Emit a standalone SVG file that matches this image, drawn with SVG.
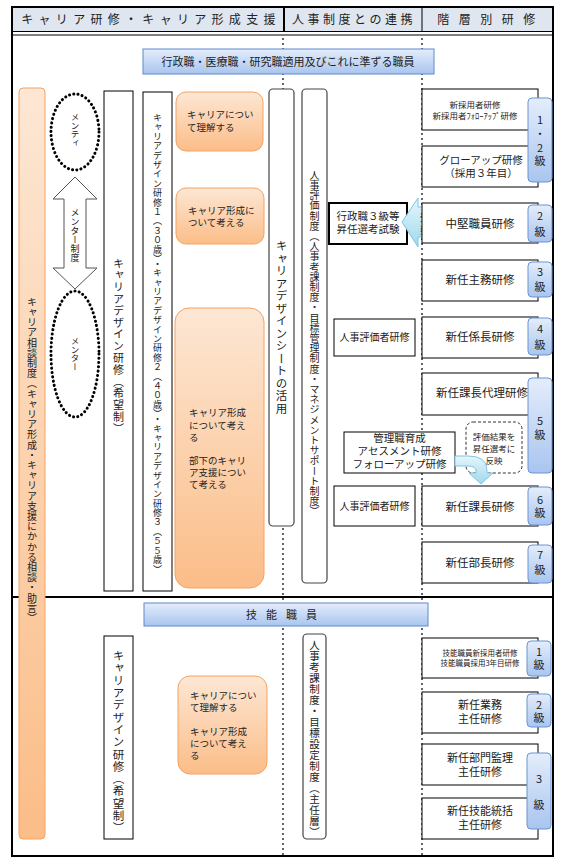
<svg xmlns="http://www.w3.org/2000/svg" width="563" height="865" viewBox="0 0 563 865">
<defs>
<linearGradient id="gOr" x1="0" y1="0" x2="0" y2="1"><stop offset="0" stop-color="#fde7d4"/><stop offset="1" stop-color="#fbbd88"/></linearGradient>
<linearGradient id="gBl" x1="0" y1="0" x2="0" y2="1"><stop offset="0" stop-color="#e4edfb"/><stop offset="1" stop-color="#a9c5ef"/></linearGradient>
<linearGradient id="gCy" x1="0" y1="0" x2="0" y2="1"><stop offset="0" stop-color="#e6f6fc"/><stop offset="1" stop-color="#9fd8ee"/></linearGradient>
<style>
text{font-family:"Noto Sans CJK JP","Noto Sans",sans-serif;fill:#222}
.v{writing-mode:vertical-rl}
.vu{writing-mode:vertical-rl;text-orientation:upright;font-size:11px}
.or{fill:url(#gOr);stroke:#f5a263;stroke-width:1}
.bl{fill:url(#gBl);stroke:#5d8ad0;stroke-width:1}
.pill{fill:url(#gBl);stroke:#6b93d3;stroke-width:1}
.bx{fill:#fff;stroke:#000;stroke-width:1}
.rr{fill:#fff;stroke:#444;stroke-width:1.2}
.dot{stroke:#000;stroke-width:1.2;stroke-dasharray:2 3;fill:none}
.ell{fill:#fff;stroke:#000;stroke-width:3;stroke-dasharray:0.1 4.2;stroke-linecap:round}
.c{text-anchor:middle}
.hd{font-size:12px}
.rb{font-size:11.5px;text-anchor:middle}
.ot{font-size:9.5px}
</style>
</defs>

<g id="frame">
<rect x="12" y="7" width="541" height="849" fill="#fff" stroke="#000" stroke-width="2"/>
<rect x="13" y="8" width="539" height="23" fill="#dfe6ef"/>
<line x1="12" y1="31.5" x2="553" y2="31.5" stroke="#000" stroke-width="1.2"/>
<line x1="12" y1="35" x2="553" y2="35" stroke="#000" stroke-width="1"/>
<line x1="284" y1="7" x2="284" y2="31" stroke="#000" stroke-width="2"/>
<line x1="422" y1="7" x2="422" y2="31" stroke="#000" stroke-width="1"/>
<text class="hd c" x="151" y="24" letter-spacing="5.3">キャリア研修・キャリア形成支援</text>
<text class="hd c" x="354" y="24" letter-spacing="3.5">人事制度との連携</text>
<text class="hd c" x="491" y="24" letter-spacing="9.5">階層別研修</text>
<line class="dot" x1="283" y1="38" x2="283" y2="856"/>
<line class="dot" x1="422" y1="38" x2="422" y2="856"/>
<line x1="12" y1="597" x2="553" y2="597" stroke="#000" stroke-width="2"/>
</g>

<g id="band-admin">
<rect class="bl" x="143" y="49" width="291" height="25"/>
<text x="288" y="66" class="c" font-size="11">行政職・医療職・研究職適用及びこれに準ずる職員</text>
</g>

<g id="consult">
<rect class="or" x="19" y="88" width="26" height="751" rx="4"/>
<text class="v" x="32" y="297" font-size="10" letter-spacing="0.2">キャリア相談制度（キャリア形成・キャリア支援にかかる相談・助言）</text>
</g>

<g id="mentee">
<ellipse class="ell" cx="75" cy="132" rx="24" ry="38"/>
<text class="v" x="75" y="113" font-size="8.5">メンティ</text>
</g>
<g id="mentor">
<ellipse class="ell" cx="75" cy="354" rx="24" ry="63"/>
<text class="v" x="75" y="337" font-size="8.5">メンター</text>
</g>

<g id="design-wish">
<rect class="bx" x="104" y="91" width="29" height="500"/>
<text class="v" x="118.5" y="258" font-size="11" letter-spacing="0.8">キャリアデザイン研修（希望制）</text>
</g>
<g id="design-age">
<rect class="bx" x="143" y="92" width="29" height="499"/>
<text class="v" x="157.5" y="113" font-size="9" letter-spacing="0.4">キャリアデザイン研修１（３０歳）・キャリアデザイン研修２（４０歳）・キャリアデザイン研修３（５５歳）</text>
</g>

<g id="or1">
<rect class="or" x="176" y="92" width="87" height="59" rx="10"/>
<text class="ot" x="187" y="118">キャリアについ<tspan x="187" dy="13">て理解する</tspan></text>
</g>
<g id="or2">
<rect class="or" x="176" y="188" width="88" height="56" rx="10"/>
<text class="ot" x="188" y="214">キャリア形成に<tspan x="188" dy="12">ついて考える</tspan></text>
</g>
<g id="or3">
<rect class="or" x="175" y="308" width="89" height="280" rx="14"/>
<text class="ot" x="189" y="416">キャリア形成<tspan x="189" dy="13">について考え</tspan><tspan x="189" dy="12">る</tspan><tspan x="189" dy="23">部下のキャリ</tspan><tspan x="189" dy="12">ア支援につい</tspan><tspan x="189" dy="12">て考える</tspan></text>
</g>

<g id="sheet">
<rect class="rr" x="269" y="89" width="25" height="437" rx="4"/>
<text class="v" x="281.5" y="240" font-size="11.5" letter-spacing="1">キャリアデザインシートの活用</text>
</g>
<g id="eval">
<rect class="rr" x="302" y="89" width="25" height="494" rx="4"/>
<text class="v" x="314.5" y="170" font-size="10" letter-spacing="0.2">人事評価制度（人事考課制度・目標管理制度・マネジメントサポート制度）</text>
</g>

<g id="exam">
<rect x="329" y="203" width="78" height="41" fill="#fff" stroke="#000" stroke-width="2"/>
<text x="368" y="220" class="c" font-size="10.5">行政職３級等<tspan x="368" dy="13">昇任選考試験</tspan></text>
</g>
<g id="evaluator1">
<rect class="bx" x="334" y="319" width="81" height="37"/>
<text x="374.5" y="341" class="c" font-size="10">人事評価者研修</text>
</g>
<g id="evaluator2">
<rect class="bx" x="334" y="486" width="81" height="40"/>
<text x="374.5" y="510" class="c" font-size="10">人事評価者研修</text>
</g>
<g id="assess">
<rect class="bx" x="344" y="432" width="111" height="41"/>
<text x="399.5" y="442" class="c" font-size="10.5">管理職育成<tspan x="399.5" dy="13">アセスメント研修</tspan><tspan x="399.5" dy="13">フォローアップ研修</tspan></text>
</g>
<g id="reflect">
<rect x="466" y="422" width="56" height="51" rx="7" fill="#fff" stroke="#333" stroke-width="1" stroke-dasharray="3 2"/>
<text x="494" y="440" class="c" font-size="8.5">評価結果を<tspan x="494" dy="12">昇任選考に</tspan><tspan x="494" dy="12">反映</tspan></text>
</g>

<g id="connectors">
<path d="M75,177 L97,199 L86,199 L86,268 L97,268 L75,289 L53,268 L64,268 L64,199 L53,199 Z" fill="#fff" stroke="#555" stroke-width="1"/>
<text class="v" x="75" y="208" font-size="9">メンター制度</text>
<path d="M402,222 L418,198 L418,207 L442,207 L442,237 L418,237 L418,247 Z" fill="url(#gCy)" stroke="#7ec6e2" stroke-width="1"/>
<text x="429" y="221" class="c" font-size="9">受験<tspan x="429" dy="13">要件</tspan></text>
<path d="M455,456 L468,456 Q487,456 487,470 L487,473 L493,473 L481,484 L469,473 L476,473 L476,471 Q476,466 468,466 L455,466 Z" fill="url(#gCy)" stroke="#7ec6e2" stroke-width="1"/>
</g>

<g id="r1">
<rect class="bx" x="422" y="89" width="116" height="41"/>
<text x="475" y="108" class="c" font-size="8.5">新採用者研修<tspan x="475" dy="11">新採用者ﾌｫﾛｰｱｯﾌﾟ研修</tspan></text>
</g>
<g id="r2">
<rect class="bx" x="422" y="146" width="116" height="41"/>
<text x="481" y="164" class="c" font-size="10.5">グローアップ研修<tspan x="481" dy="13">（採用３年目）</tspan></text>
</g>
<g id="r3"><rect class="bx" x="422" y="203" width="116" height="40"/><text x="480" y="228" class="rb">中堅職員研修</text></g>
<g id="r4"><rect class="bx" x="422" y="260" width="116" height="41"/><text x="480" y="284" class="rb">新任主務研修</text></g>
<g id="r5"><rect class="bx" x="422" y="317" width="116" height="41"/><text x="480" y="341" class="rb">新任係長研修</text></g>
<g id="r6"><rect class="bx" x="422" y="373" width="116" height="42"/><text x="482" y="397" class="rb">新任課長代理研修</text></g>
<g id="r7"><rect class="bx" x="422" y="486" width="116" height="40"/><text x="480" y="511" class="rb">新任課長研修</text></g>
<g id="r8"><rect class="bx" x="422" y="542" width="116" height="41"/><text x="480" y="567" class="rb">新任部長研修</text></g>

<g id="p12"><rect class="pill" x="528" y="98" width="24" height="84" rx="4"/><text class="vu" x="540" y="114.5" letter-spacing="2.7">1・2級</text></g>
<g id="p2"><rect class="pill" x="528" y="205" width="24" height="37" rx="4"/><text class="vu" x="540" y="210.5" letter-spacing="5">2級</text></g>
<g id="p3"><rect class="pill" x="528" y="262" width="24" height="35" rx="4"/><text class="vu" x="540" y="266.5" letter-spacing="4">3級</text></g>
<g id="p4"><rect class="pill" x="528" y="318" width="24" height="37" rx="4"/><text class="vu" x="540" y="323.5" letter-spacing="5">4級</text></g>
<g id="p5"><rect class="pill" x="528" y="378" width="24" height="95" rx="4"/><text class="vu" x="540" y="415.5" letter-spacing="3">5級</text></g>
<g id="p6"><rect class="pill" x="528" y="487" width="24" height="38" rx="4"/><text class="vu" x="540" y="494.5" letter-spacing="2">6級</text></g>
<g id="p7"><rect class="pill" x="528" y="545" width="24" height="38" rx="4"/><text class="vu" x="540" y="549.5" letter-spacing="4">7級</text></g>

<g id="band-skill">
<rect class="bl" x="144" y="603" width="284" height="23"/>
<text x="286" y="619" class="c" font-size="11" letter-spacing="9">技能職員</text>
</g>
<g id="design-wish2">
<rect class="bx" x="104" y="636" width="29" height="203"/>
<text class="v" x="118.5" y="650" font-size="11.5" letter-spacing="0.8">キャリアデザイン研修（希望制）</text>
</g>
<g id="or4">
<rect class="or" x="178" y="676" width="89" height="98" rx="12"/>
<text class="ot" x="190" y="699">キャリアについ<tspan x="190" dy="12">て理解する</tspan><tspan x="190" dy="24">キャリア形成</tspan><tspan x="190" dy="12">について考え</tspan><tspan x="190" dy="12">る</tspan></text>
</g>
<g id="eval2">
<rect class="rr" x="303" y="634" width="23" height="205" rx="4"/>
<text class="v" x="314.5" y="640" font-size="10.5" letter-spacing="0.5">人事考課制度・目標設定制度（主任層）</text>
</g>

<g id="s1">
<rect class="bx" x="422" y="638" width="116" height="40"/>
<text x="480" y="656" class="c" font-size="7.5">技能職員新採用者研修<tspan x="480" dy="10">技能職員採用3年目研修</tspan></text>
</g>
<g id="s2"><rect class="bx" x="422" y="692" width="116" height="41"/>
<text x="480" y="709" class="c" font-size="11">新任業務<tspan x="480" dy="14">主任研修</tspan></text></g>
<g id="s3"><rect class="bx" x="422" y="744" width="116" height="41"/>
<text x="480" y="762" class="c" font-size="11">新任部門監理<tspan x="480" dy="14">主任研修</tspan></text></g>
<g id="s4"><rect class="bx" x="422" y="798" width="116" height="41"/>
<text x="480" y="815" class="c" font-size="11">新任技能統括<tspan x="480" dy="14">主任研修</tspan></text></g>

<g id="q1"><rect class="pill" x="527" y="641" width="24" height="35" rx="4"/><text class="vu" x="539" y="646.5" letter-spacing="2">1級</text></g>
<g id="q2"><rect class="pill" x="527" y="694" width="24" height="33" rx="4"/><text class="vu" x="539" y="699.5" letter-spacing="2">2級</text></g>
<g id="q3"><rect class="pill" x="527" y="753" width="24" height="76" rx="4"/><text class="vu" x="539" y="773.5" letter-spacing="15">3級</text></g>
</svg>
